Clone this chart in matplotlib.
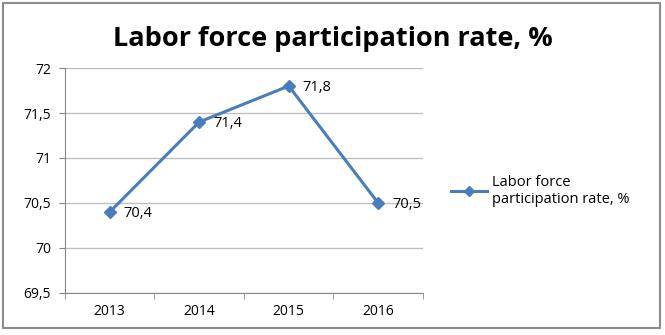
import matplotlib
matplotlib.use("Agg")
import matplotlib.pyplot as plt
from matplotlib.patches import Rectangle
from matplotlib.lines import Line2D

years = ["2013", "2014", "2015", "2016"]
values = [70.4, 71.4, 71.8, 70.5]
yticks = [69.5, 70, 70.5, 71, 71.5, 72]
series_name = "Labor force\nparticipation rate, %"
title = "Labor force participation rate, %"

plt.rcParams['font.family'] = ['Open Sans', 'DejaVu Sans']
color = '#4A7EBB'

fig = plt.figure(figsize=(6.65, 3.35), dpi=100)
fig.patches.append(Rectangle((0.005, 0.02), 0.988, 0.97, transform=fig.transFigure,
                             fill=False, edgecolor='#8c8c8c', linewidth=1.5))
ax = fig.add_axes([0.0977, 0.1254, 0.5383, 0.6716])
x = list(range(len(years)))
ax.plot(x, values, color=color, linewidth=2.2, marker='D', markersize=6.5,
        markerfacecolor=color, markeredgecolor=color)
for xi, v in zip(x, values):
    ax.annotate(f"{v:.1f}".replace('.', ','), (xi, v), xytext=(10, -1),
                textcoords='offset points', va='center', ha='left', fontsize=10.5)

ax.set_xlim(-0.5, 3.5)
ax.set_ylim(69.5, 72)
ax.set_yticks(yticks)
ax.set_yticklabels([f"{t:g}".replace('.', ',') for t in yticks], fontsize=10)
ax.set_xticks(x)
ax.set_xticklabels(years, fontsize=10)
ax.tick_params(axis='x', which='major', length=0, pad=8)
ax.set_xticks([-0.5, 0.5, 1.5, 2.5, 3.5], minor=True)
ax.tick_params(axis='x', which='minor', length=4, color='#868686', direction='out')
ax.tick_params(axis='y', length=4, color='#868686', pad=6)
ax.grid(axis='y', color='#bfbfbf', linewidth=1)
ax.set_axisbelow(True)
for s in ['top', 'right']:
    ax.spines[s].set_visible(False)
for s in ['left', 'bottom']:
    ax.spines[s].set_color('#868686')

fig.text(0.5, 0.885, title, ha='center', va='center', fontsize=19.5, fontweight='bold')

handle = Line2D([], [], color=color, linewidth=2.2, marker='D', markersize=5,
                markerfacecolor=color)
fig.legend([handle], [series_name], loc='center left', bbox_to_anchor=(0.658, 0.43),
           frameon=False, fontsize=10.5, handlelength=2.5, handletextpad=0.3)

fig.savefig("out.png", dpi=100)
